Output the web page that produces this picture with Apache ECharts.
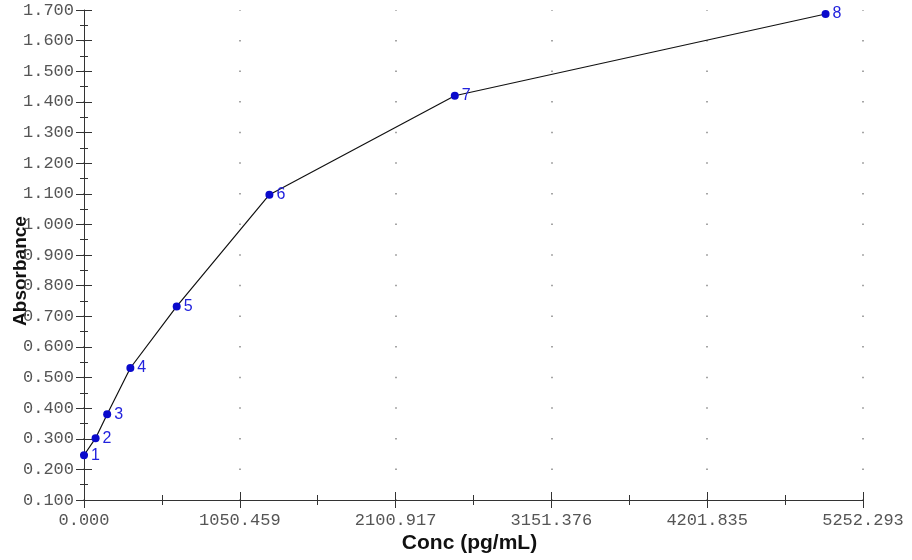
<!DOCTYPE html>
<html><head><meta charset="utf-8">
<script src="https://cdn.jsdelivr.net/npm/echarts@6/dist/echarts.min.js"></script>
<style>html,body{margin:0;padding:0;background:#fff}#c{width:912px;height:560px}</style>
</head><body><div id="c"></div>
<script>
const conc = [0, 78.125, 156.25, 312.5, 625, 1250, 2500, 5000];
const absorbance = [0.246, 0.302, 0.380, 0.531, 0.732, 1.097, 1.420, 1.687];
const pointLabels = ['1','2','3','4','5','6','7','8'];
const xTickLabels = ['0.000','1050.459','2100.917','3151.376','4201.835','5252.293'];
const xMin = 0, xMax = 5252.293, xInterval = 5252.293 / 5;
const yMin = 0.1, yMax = 1.7, yInterval = 0.1;
const xTitle = 'Conc (pg/mL)', yTitle = 'Absorbance';

const chart = echarts.init(document.getElementById('c'), null, {renderer:'canvas'});
const monoFont = {fontFamily:'Liberation Mono', fontSize:17, color:'#555'};
const tickColor = '#333';
const G = {left:84, right:49, top:10, bottom:60};
const gridH = 560 - G.top - G.bottom;
const step = gridH / ((yMax - yMin) / yInterval);
const baseX = {type:'value', min:xMin, max:xMax, interval:xInterval, position:'bottom'};
const baseY = {type:'value', min:yMin, max:yMax, interval:yInterval, position:'left'};
const gridOpt = Object.assign({containLabel:false, outerBoundsMode:'none'}, G);
chart.setOption({
  animation:false,
  grid:[gridOpt, Object.assign({}, gridOpt)],
  xAxis:[
    Object.assign({}, baseX, {
      gridIndex:0,
      name:xTitle, nameLocation:'middle', nameGap:33, nameMoveOverlap:false,
      nameTextStyle:{fontFamily:'Arial, Liberation Sans', fontWeight:'bold', fontSize:21, color:'#111', padding:[0,8,0,0]},
      axisLine:{show:true, lineStyle:{color:tickColor, width:1}},
      axisTick:{show:true, inside:false, length:8, lineStyle:{color:tickColor}},
      minorTick:{show:true, splitNumber:2, length:5, lineStyle:{color:tickColor}},
      axisLabel:Object.assign({margin:12, showMaxLabel:true, showMinLabel:true,
        formatter:v=>{const i=Math.round((v-xMin)/xInterval); return xTickLabels[i]!==undefined?xTickLabels[i]:v.toFixed(3);}}, monoFont),
      splitLine:{show:true, lineStyle:{color:'#888', width:1.5, type:[1.5, step-1.5], dashOffset:0.75}}
    }),
    Object.assign({}, baseX, {
      gridIndex:1,
      axisLine:{show:false},
      axisTick:{show:true, inside:true, length:8, lineStyle:{color:tickColor}},
      minorTick:{show:true, splitNumber:2, length:5, lineStyle:{color:tickColor}},
      axisLabel:{show:false}, splitLine:{show:false}
    })
  ],
  yAxis:[
    Object.assign({}, baseY, {
      gridIndex:0,
      name:yTitle, nameLocation:'middle', nameGap:54, nameRotate:90, nameMoveOverlap:false,
      nameTextStyle:{fontFamily:'Arial, Liberation Sans', fontWeight:'bold', fontSize:19, color:'#111', padding:[0,32,0,0]},
      axisLine:{show:true, lineStyle:{color:tickColor, width:1}},
      axisTick:{show:true, inside:false, length:8, lineStyle:{color:tickColor}},
      minorTick:{show:true, splitNumber:2, length:4, lineStyle:{color:tickColor}},
      axisLabel:Object.assign({margin:10, formatter:v=>v.toFixed(3), showMaxLabel:true, showMinLabel:true}, monoFont),
      splitLine:{show:false}
    }),
    Object.assign({}, baseY, {
      gridIndex:1,
      axisLine:{show:false},
      axisTick:{show:true, inside:true, length:8, lineStyle:{color:tickColor}},
      minorTick:{show:true, splitNumber:2, length:4, lineStyle:{color:tickColor}},
      axisLabel:{show:false}, splitLine:{show:false}
    })
  ],
  series:[{
    type:'line', xAxisIndex:0, yAxisIndex:0,
    data:conc.map((x,i)=>({value:[x, absorbance[i]], name:pointLabels[i]})),
    lineStyle:{color:'#111', width:1.2},
    symbol:'circle', symbolSize:8,
    itemStyle:{color:'#0a0acc'},
    label:{show:true, position:'right', distance:3, formatter:p=>p.name,
      fontFamily:'Arial, Liberation Sans', fontSize:16, color:'#2222dd'},
    z:5
  }]
});
</script></body></html>
